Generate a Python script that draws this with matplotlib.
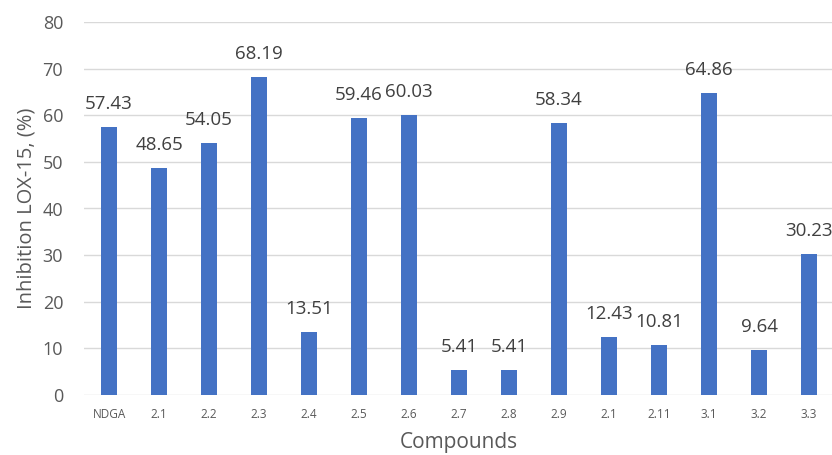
import matplotlib.pyplot as plt
from matplotlib.transforms import offset_copy

compounds = ["NDGA", "2.1", "2.2", "2.3", "2.4", "2.5", "2.6", "2.7",
             "2.8", "2.9", "2.1", "2.11", "3.1", "3.2", "3.3"]
inhibition = [57.43, 48.65, 54.05, 68.19, 13.51, 59.46, 60.03, 5.41,
              5.41, 58.34, 12.43, 10.81, 64.86, 9.64, 30.23]
yticks = [0, 10, 20, 30, 40, 50, 60, 70, 80]

plt.rcParams["font.family"] = ["Open Sans", "DejaVu Sans"]

fig = plt.figure(figsize=(8.32, 4.55), dpi=100)
ax = fig.add_axes([84 / 832, 1 - 395 / 455, 750 / 832, 373 / 455])

x = range(len(compounds))
ax.bar(x, inhibition, width=0.32, color="#4472C4", zorder=3)

# value labels sit a fixed distance above each bar
lab_tr = offset_copy(ax.transData, fig=fig, y=16.5, units="points")
for i, v in enumerate(inhibition):
    ax.text(i, v, f"{v:.2f}", transform=lab_tr, ha="center", va="center",
            fontsize=13.5, color="#404040", zorder=4)

ax.set_xlim(-0.5, len(compounds) - 0.5)
ax.set_ylim(0, 80)
ax.set_yticks(yticks)
ax.set_xticks(list(x))
ax.set_xticklabels(compounds, fontsize=8.5, color="#595959")
ax.tick_params(axis="y", labelsize=13, colors="#595959", length=0, pad=15)
ax.tick_params(axis="x", length=0, pad=9)
ax.yaxis.grid(True, color="#D9D9D9", linewidth=1, zorder=0)
for s in ax.spines.values():
    s.set_visible(False)

ax.set_ylabel("Inhibition LOX-15, (%)", fontsize=14.5, color="#595959", labelpad=4)
ax.set_xlabel("Compounds", fontsize=15, color="#595959", labelpad=8)

fig.savefig("out.png", dpi=100)
